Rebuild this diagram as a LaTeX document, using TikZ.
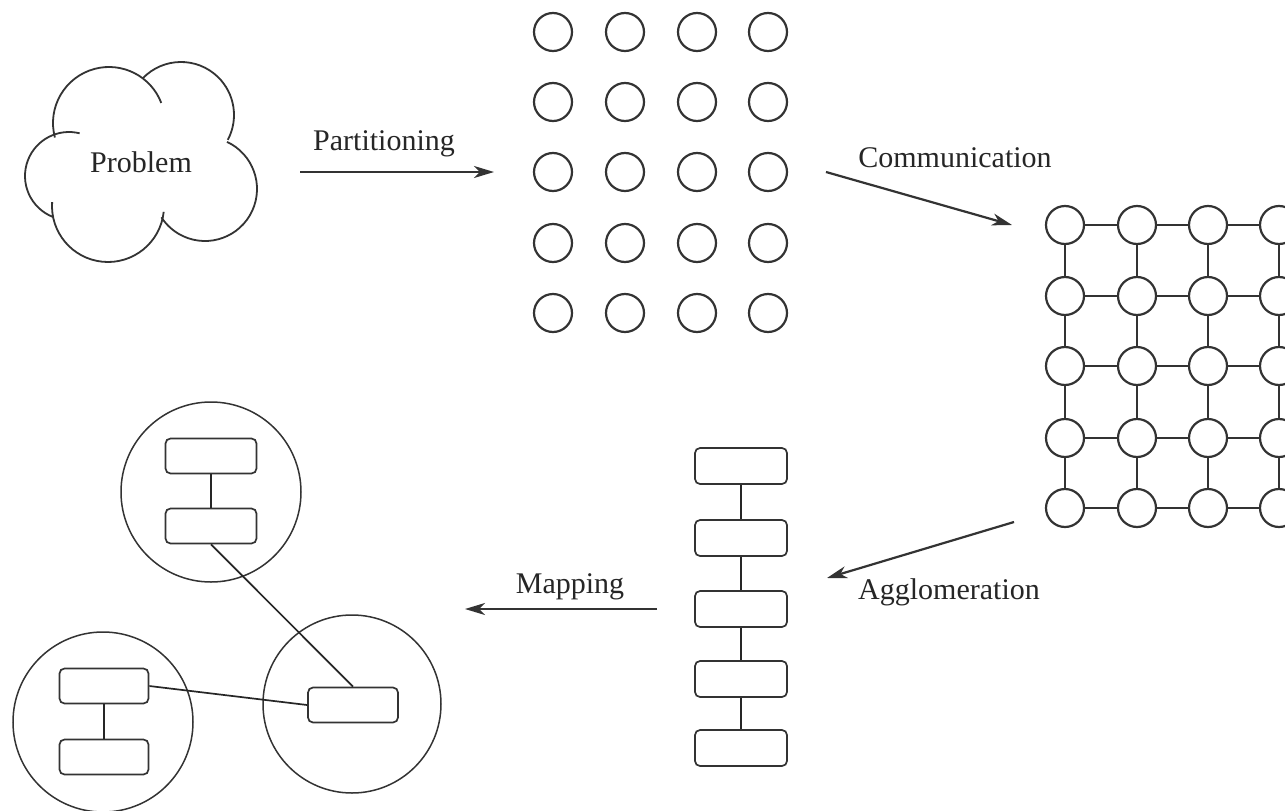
\documentclass[tikz,border=0pt]{standalone}
\usepackage{fontspec}
\setmainfont{Liberation Serif}
\usetikzlibrary{arrows.meta}
\begin{document}
\begin{tikzpicture}[x=1pt,y=-1pt,
  cl/.style={draw=black!80, line width=1.8pt},
  ln/.style={draw=black!80, line width=2.2pt},
  thin/.style={draw=black!85, line width=1.7pt},
  dot/.style={circle, draw=black!80, line width=2.2pt, minimum size=38pt, inner sep=0pt},
  blk/.style={rectangle, rounded corners=5pt, draw=black!80, line width=1.7pt, minimum width=91pt, minimum height=35pt, inner sep=0pt},
  proc/.style={circle, draw=black!80, line width=1.5pt, minimum size=180pt, inner sep=0pt},
  lbl/.style={font=\fontsize{30}{36}\selectfont, text=black!85, anchor=base},
  arr/.style={draw=black!80, line width=2.2pt, -{Stealth[length=20pt,width=12pt,inset=6pt]}}
]
\useasboundingbox (0,0) rectangle (1285,811);
\clip (0,0) rectangle (1285,811);
\fill[white] (0,0) rectangle (1285,811);

% ---- cloud "Problem"
\draw[cl] (69,176) ++(111:44) arc[start angle=111, end angle=284, radius=44];
\draw[cl] (109,123) ++(165:56) arc[start angle=165, end angle=339, radius=56];
\draw[cl] (181,115) ++(224:53) arc[start angle=224, end angle=388, radius=53];
\draw[cl] (205,189) ++(-65:52) arc[start angle=-65, end angle=147, radius=52];
\draw[cl] (108,206) ++(6:56) arc[start angle=6, end angle=184, radius=56];
\node[lbl] (problem) at (141,172) {Problem};

% ---- partitioning arrow
\coordinate (pa1) at (300,172);
\coordinate (pa2) at (494,172);
\draw[arr] (pa1) -- (pa2);
\node[lbl] (tpart) at (384,150) {Partitioning};

% ---- partitioned tasks
\foreach \c/\x in {1/553,2/625,3/697,4/768}
  \foreach \r/\y in {1/32,2/102,3/172,4/243,5/313}
    \node[dot] (p\c\r) at (\x,\y) {};

% ---- communication arrow
\coordinate (ca1) at (826,172);
\coordinate (ca2) at (1012,225);
\draw[arr] (ca1) -- (ca2);
\node[lbl] (tcomm) at (955,167) {Communication};

% ---- communicating mesh
\foreach \c/\x in {1/1065,2/1137,3/1208,4/1279}
  \foreach \r/\y in {1/225,2/296,3/366,4/438,5/508}
    \node[dot] (m\c\r) at (\x,\y) {};
\foreach \r in {1,...,5} {
  \draw[ln] (m1\r) -- (m2\r);
  \draw[ln] (m2\r) -- (m3\r);
  \draw[ln] (m3\r) -- (m4\r);
}
\foreach \c in {1,...,4} {
  \draw[ln] (m\c1) -- (m\c2);
  \draw[ln] (m\c2) -- (m\c3);
  \draw[ln] (m\c3) -- (m\c4);
  \draw[ln] (m\c4) -- (m\c5);
}

% ---- agglomeration arrow
\coordinate (aa1) at (1014,522);
\coordinate (aa2) at (827,578);
\draw[arr] (aa1) -- (aa2);
\node[lbl] (taggl) at (949,599) {Agglomeration};

% ---- agglomerated chain
\foreach \r/\y in {1/466,2/538,3/609,4/679,5/748}
  \node[blk, minimum width=92pt, minimum height=36pt] (a\r) at (741,\y) {};
\draw[thin] (a1) -- (a2);
\draw[thin] (a2) -- (a3);
\draw[thin] (a3) -- (a4);
\draw[thin] (a4) -- (a5);

% ---- mapping arrow
\coordinate (ma1) at (657,609);
\coordinate (ma2) at (465,609);
\draw[arr] (ma1) -- (ma2);
\node[lbl] (tmap) at (570,593) {Mapping};

% ---- processors
\node[proc] (ptop) at (211,492) {};
\node[proc] (pleft) at (103,722) {};
\node[proc, minimum size=178pt] (pright) at (352,704) {};
\node[blk] (tb1) at (211,456) {};
\node[blk] (tb2) at (211,526) {};
\node[blk, minimum width=89pt] (lb1) at (104,686) {};
\node[blk, minimum width=89pt] (lb2) at (104,757) {};
\node[blk, minimum width=90pt] (rb) at (353,705) {};
\draw[thin] (tb1) -- (tb2);
\draw[thin] (lb1) -- (lb2);
\draw[thin] (tb2.south) -- (rb.north);
\draw[thin] (lb1.east) -- (rb.west);
\end{tikzpicture}
\end{document}
